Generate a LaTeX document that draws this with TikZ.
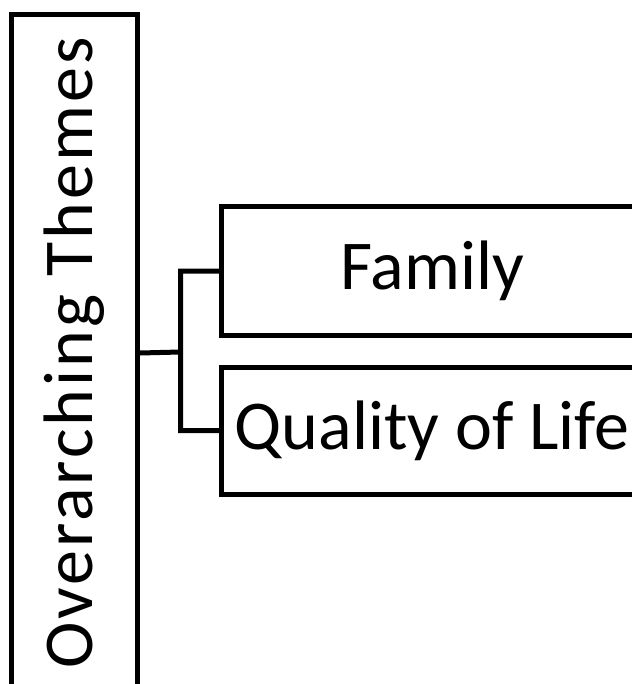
\documentclass[tikz,border=0pt]{standalone}
\usepackage{fontspec}
\setmainfont{Carlito}
\newfontfamily\spacedfont[LetterSpace=4.2]{Carlito}
\usepackage{tikz}
\usetikzlibrary{positioning}
\tikzstyle{theme}=[draw, line width=5pt, inner sep=0pt, font=\fontsize{70}{84}\selectfont]
\newcommand{\themebox}{\node[theme]}

\begin{document}
\begin{tikzpicture}[x=1pt, y=-1pt, line width=5pt]
                    \useasboundingbox (0,0) rectangle (631,684);
                    \themebox (over) at (74.5,353) [rotate=90, minimum width=676pt, minimum height=126pt]{\spacedfont Overarching Themes};
                    \themebox (family) at (432,271) [minimum width=421pt, minimum height=128pt]{Family};
                    \themebox (quality) at (432,430.5) [minimum width=421pt, minimum height=127pt]{Quality of Life};
                    \coordinate (fork) at (180.5,352);
                    \path[draw]
                        (over.south) -- (fork)
                        (family.west) -| (fork) |- (quality.west)
                    ;
                \end{tikzpicture}
\end{document}
